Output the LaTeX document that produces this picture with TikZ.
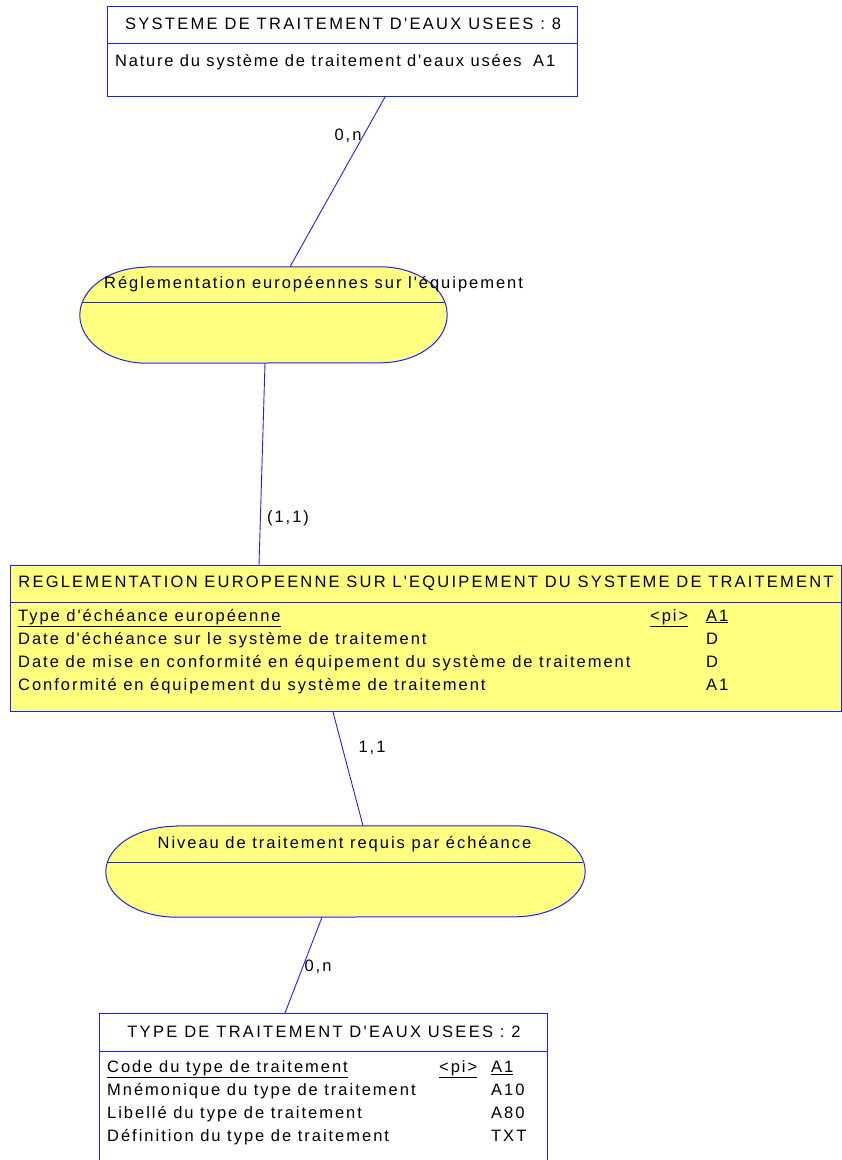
\documentclass[tikz,border=0pt]{standalone}
\usepackage{fontspec}
\newfontfamily\bodyfont{Liberation Sans}[LetterSpace=12]
\newfontfamily\tightfont{Liberation Sans}[LetterSpace=10.8]
\newfontfamily\titlefont{Liberation Sans}[LetterSpace=14]
\newfontfamily\widetitlefont{Liberation Sans}[LetterSpace=13.3]
\definecolor{lineblue}{RGB}{30,30,255}
\definecolor{assocfill}{RGB}{255,255,128}
\newcommand{\apo}{\char"0027\relax}

\begin{document}
\begin{tikzpicture}[x=1pt, y=-1pt,
  font=\bodyfont\fontsize{16.5}{19}\selectfont,
  entbox/.style={draw=lineblue, line width=1pt, rectangle, inner sep=0pt, anchor=north west},
  divider/.style={draw=lineblue, line width=1pt},
  link/.style={draw=lineblue, line width=0.9pt},
  assocshape/.style={draw=lineblue, fill=assocfill, line width=1pt},
  txt/.style={anchor=base west, inner sep=0pt, text=black},
  ctxt/.style={anchor=base, inner sep=0pt, text=black},
  ttl/.style={anchor=base, inner sep=0pt, text=black, font=\titlefont\fontsize{16.5}{19}\selectfont},
  card/.style={anchor=center, inner sep=0pt, text=black}]

\useasboundingbox (0,0) rectangle (842,1160);
\clip (0,0) rectangle (842,1160);

% ---------- entity: SYSTEME DE TRAITEMENT D'EAUX USEES ----------
\node[entbox, minimum width=470pt, minimum height=90pt] (sys) at (107,6) {};
\draw[divider] ([yshift=-37pt]sys.north west) -- ([yshift=-37pt]sys.north east);
\node[ttl] (systitle) at (343,29.5) {SYSTEME DE TRAITEMENT D\apo EAUX USEES : 8};
\node[txt, font=\tightfont\fontsize{16.5}{19}\selectfont] (sysa1) at (115,66) {Nature du système de traitement d\apo eaux usées};
\node[txt] (sysa1t) at (533,66) {A1};

% ---------- association: Réglementation européennes sur l'équipement ----------
\node[rectangle, minimum width=367pt, minimum height=96pt, inner sep=0pt] (asc1) at (263.5,315) {};
\draw[assocshape] ([xshift=67pt]asc1.north west) -- ([xshift=-67pt]asc1.north east)
  arc[start angle=90, end angle=-90, x radius=67pt, y radius=48pt]
  -- ([xshift=67pt]asc1.south west)
  arc[start angle=270, end angle=90, x radius=67pt, y radius=48pt] -- cycle;
\draw[divider] ([xshift=-181.3pt, yshift=12.3pt]asc1.center) -- ([xshift=181.3pt, yshift=12.3pt]asc1.center);
\node[txt] (asc1name) at (104,288.5) {Réglementation européennes sur l\apo équipement};

% ---------- entity: REGLEMENTATION EUROPEENNE ... ----------
\node[entbox, fill=assocfill, minimum width=831pt, minimum height=146pt] (reg) at (10,565) {};
\draw[divider] ([yshift=-37pt]reg.north west) -- ([yshift=-37pt]reg.north east);
\node[ttl, font=\widetitlefont\fontsize{16.5}{19}\selectfont] (regtitle) at (426,587) {REGLEMENTATION EUROPEENNE SUR L\apo EQUIPEMENT DU SYSTEME DE TRAITEMENT};
\node[txt] (rega1) at (18,621) {\underline{Type d\apo échéance européenne}};
\node[txt] (rega1k) at (650,621) {\underline{<pi>}};
\node[txt] (rega1t) at (706,621) {\underline{A1}};
\node[txt] (rega2) at (18,644) {Date d\apo échéance sur le système de traitement};
\node[txt] (rega2t) at (706,644) {D};
\node[txt] (rega3) at (18,667) {Date de mise en conformité en équipement du système de traitement};
\node[txt] (rega3t) at (706,667) {D};
\node[txt] (rega4) at (18,690) {Conformité en équipement du système de traitement};
\node[txt] (rega4t) at (706,690) {A1};

% ---------- association: Niveau de traitement requis par échéance ----------
\node[rectangle, minimum width=479pt, minimum height=91pt, inner sep=0pt] (asc2) at (345.5,871.5) {};
\draw[assocshape] ([xshift=71pt]asc2.north west) -- ([xshift=-71pt]asc2.north east)
  arc[start angle=90, end angle=-90, x radius=71pt, y radius=45.5pt]
  -- ([xshift=71pt]asc2.south west)
  arc[start angle=270, end angle=90, x radius=71pt, y radius=45.5pt] -- cycle;
\draw[divider] ([xshift=-237.9pt, yshift=9.5pt]asc2.center) -- ([xshift=237.9pt, yshift=9.5pt]asc2.center);
\node[ctxt] (asc2name) at (344.5,848.5) {Niveau de traitement requis par échéance};

% ---------- entity: TYPE DE TRAITEMENT D'EAUX USEES ----------
\node[entbox, minimum width=448pt, minimum height=170pt] (typ) at (99,1013) {};
\draw[divider] ([yshift=-38pt]typ.north west) -- ([yshift=-38pt]typ.north east);
\node[ttl] (typtitle) at (324,1037.5) {TYPE DE TRAITEMENT D\apo EAUX USEES : 2};
\node[txt] (typa1) at (107,1072.5) {\underline{Code du type de traitement}};
\node[txt] (typa1k) at (439,1072.5) {\underline{<pi>}};
\node[txt] (typa1t) at (491,1072.5) {\underline{A1}};
\node[txt] (typa2) at (107,1095.5) {Mnémonique du type de traitement};
\node[txt] (typa2t) at (491,1095.5) {A10};
\node[txt] (typa3) at (107,1118.5) {Libellé du type de traitement};
\node[txt] (typa3t) at (491,1118.5) {A80};
\node[txt] (typa4) at (107,1141.5) {Définition du type de traitement};
\node[txt] (typa4t) at (491,1141.5) {TXT};

% ---------- links ----------
\draw[link] ([xshift=278pt]sys.south west) -- ([xshift=26.5pt]asc1.north);
\draw[link] ([xshift=1.5pt]asc1.south) -- ([xshift=249pt]reg.north west);
\draw[link] ([xshift=323pt]reg.south west) -- ([xshift=17.5pt]asc2.north);
\draw[link] ([xshift=-23.5pt]asc2.south) -- ([xshift=186pt]typ.north west);

% ---------- cardinalities ----------
\node[card] (card1) at (348,136) {0,n};
\node[card] (card2) at (288,518) {(1,1)};
\node[card] (card3) at (372,748) {1,1};
\node[card] (card4) at (318,967) {0,n};
\end{tikzpicture}
\end{document}
